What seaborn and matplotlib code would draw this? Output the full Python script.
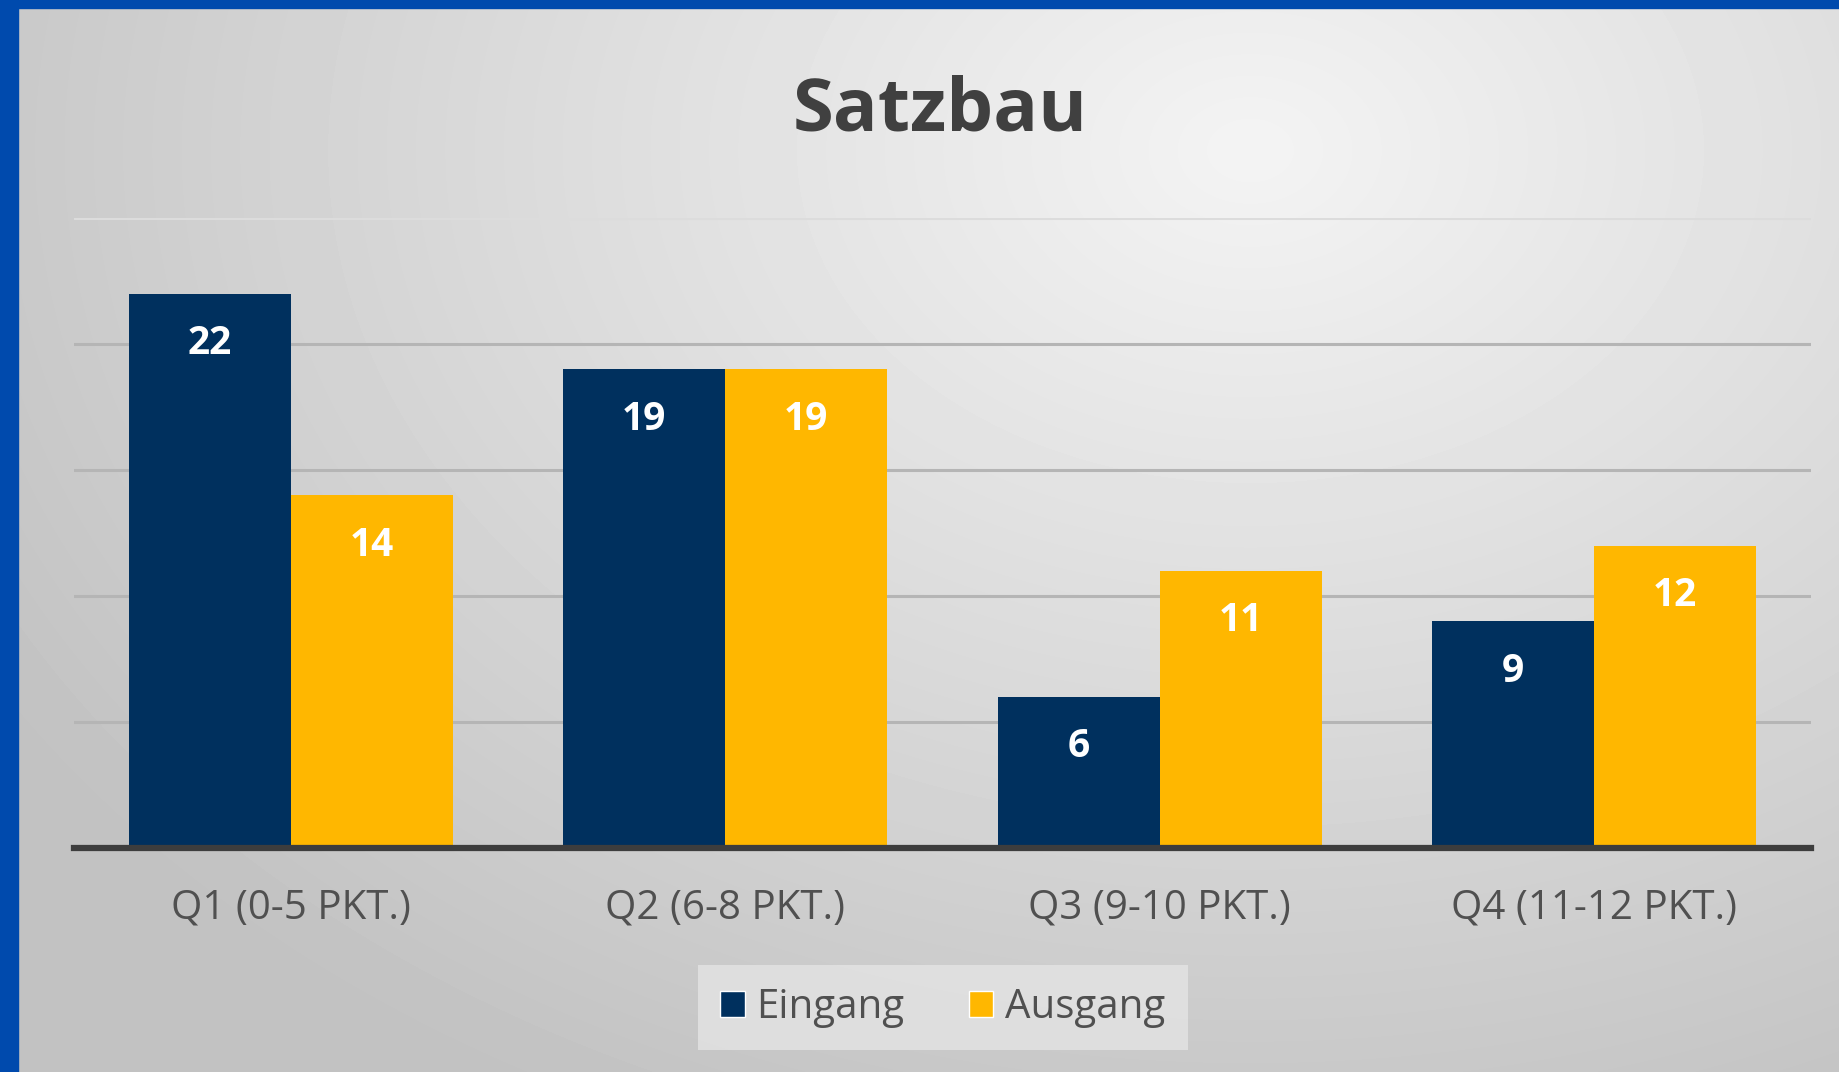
import numpy as np
import pandas as pd
import matplotlib
matplotlib.use("Agg")
import matplotlib.pyplot as plt
import seaborn as sns
from matplotlib.patches import Rectangle, Patch

categories = ["Q1 (0-5 PKT.)", "Q2 (6-8 PKT.)", "Q3 (9-10 PKT.)", "Q4 (11-12 PKT.)"]
eingang = [22, 19, 6, 9]
ausgang = [14, 19, 11, 12]
series = ["Eingang", "Ausgang"]
title = "Satzbau"

df = pd.DataFrame({
    "cat": categories * 2,
    "val": eingang + ausgang,
    "series": [series[0]] * 4 + [series[1]] * 4,
})

NAVY = "#00305e"
GOLD = "#ffb700"

sns.set_theme(style="white")
plt.rcParams["font.family"] = ["Open Sans", "DejaVu Sans"]

W, H = 1840, 1072
fig = plt.figure(figsize=(W / 100, H / 100), dpi=100)

# background radial gradient
bg = fig.add_axes([0, 0, 1, 1], zorder=-10)
yy, xx = np.mgrid[0:H, 0:W]
cx, cy = 1250, 150
d = np.sqrt(((xx - cx) / 1500.0) ** 2 + ((yy - cy) / 1100.0) ** 2)
g = np.clip(0.955 - 0.20 * d, 0.76, 1.0)
bg.imshow(g, cmap="gray", vmin=0, vmax=1, extent=[0, W, H, 0], aspect="auto", interpolation="bilinear")
bg.set_xlim(0, W)
bg.set_ylim(H, 0)
bg.axis("off")
# blue frame (left and top)
bg.add_patch(Rectangle((0, 0), 18, H, color="#004aad", zorder=5))
bg.add_patch(Rectangle((0, 0), W, 8, color="#004aad", zorder=5))

ax = fig.add_axes([74 / W, 1 - 848 / H, (1811 - 74) / W, (848 - 218) / H])
ax.patch.set_alpha(0)
sns.barplot(data=df, x="cat", y="val", hue="series", palette=[NAVY, GOLD],
            width=0.746, ax=ax, saturation=1, legend=False, zorder=3)
for p in ax.patches:
    p.set_edgecolor("none")

ax.set_xlim(-0.5, 3.5)
ax.set_ylim(0, 25)
ax.set_yticks([5, 10, 15, 20, 25])
ax.set_yticklabels([])
ax.tick_params(axis="y", length=0)
ax.grid(axis="y", color="#b5b5b5", linewidth=2.2, zorder=0)
ax.grid(axis="x", visible=False)
gl = ax.get_ygridlines()
gl[-1].set_color("#dcdcdc")
for s in ["top", "right", "left"]:
    ax.spines[s].set_visible(False)
ax.spines["bottom"].set_color("#3d3d3d")
ax.spines["bottom"].set_linewidth(4.5)
ax.spines["bottom"].set_zorder(4)
ax.set_xlabel("")
ax.set_ylabel("")
ax.tick_params(axis="x", length=0, pad=29, labelsize=29, labelcolor="#505050")

for cont in ax.containers:
    ax.bar_label(cont, labels=[f"{int(v)}" for v in cont.datavalues], label_type="edge",
                 padding=-50, color="white", fontsize=28, fontweight="bold")

fig.text(0.511, 0.896, title, ha="center", va="center", fontsize=53.5, fontweight="bold", color="#404040")

handles = [Patch(facecolor=NAVY, label=series[0]), Patch(facecolor=GOLD, label=series[1])]
leg = fig.legend(handles=handles, loc="center", bbox_to_anchor=(0.5125, 0.06), ncol=2,
                 frameon=True, fontsize=29, handlelength=0.6, handleheight=0.6,
                 handletextpad=0.3, columnspacing=1.6, borderpad=0.55, fancybox=False)
leg.get_frame().set_facecolor("#e4e4e4")
leg.get_frame().set_edgecolor("none")
for t in leg.get_texts():
    t.set_color("#505050")

fig.savefig("out.png", dpi=100)
